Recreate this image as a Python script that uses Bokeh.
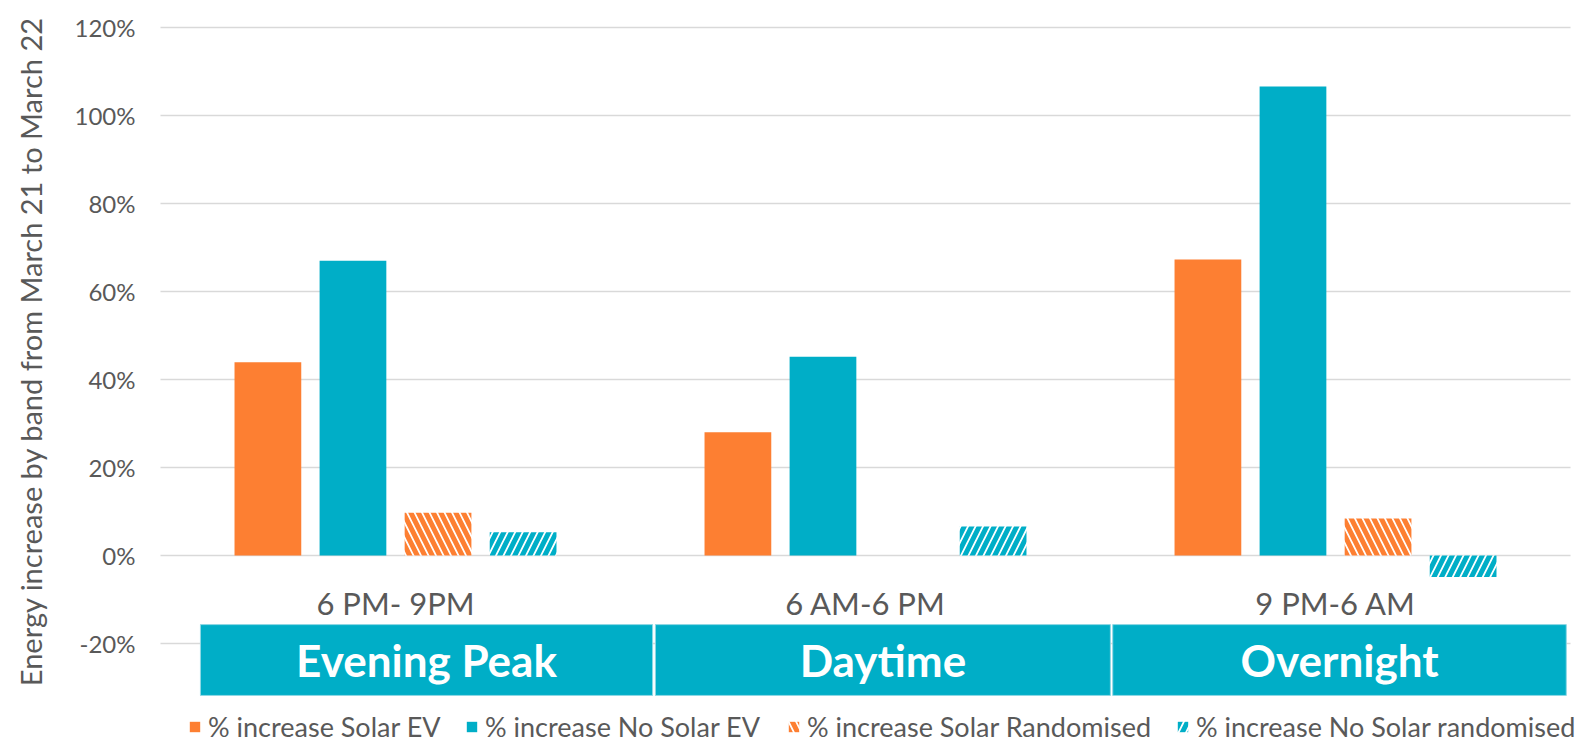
import math
from bokeh.plotting import figure
from bokeh.models import ColumnDataSource, Legend, LegendItem, Range1d
from bokeh.core.properties import value
from bokeh.embed import file_html
from bokeh.resources import INLINE

# ---- data -------------------------------------------------------------
time_bands = ["6 PM- 9PM", "6 AM-6 PM", "9 PM-6 AM"]
band_names = ["Evening Peak", "Daytime", "Overnight"]
series_names = ["% increase Solar EV", "% increase No Solar EV",
                "% increase Solar Randomised", "% increase No Solar randomised"]
solar_ev = [43.9, 28.0, 67.3]
no_solar_ev = [67.0, 45.2, 106.6]
solar_randomised = [9.7, 0.0, 8.4]
no_solar_randomised = [5.3, 6.6, -4.9]
y_ticks = [-20, 0, 20, 40, 60, 80, 100, 120]
y_tick_labels = [f"{t}%" for t in y_ticks]
y_title = "Energy increase by band from March 21 to March 22"

# ---- styling / layout ---------------------------------------------------
ORANGE = "#FD7F32"
TEAL = "#00AEC7"
GREY_TEXT = "#595959"
GRID = "#D9D9D9"
FONT = "Lato"

# the canvas is used as one drawing area; the chart body spans x = -0.5 .. 2.5
X_LEFT, X_RIGHT = -0.5, 2.5
BAR_STEP = 0.181     # distance between neighbouring bars in a group
BAR_WIDTH = 0.142
# teal band boxes below the zero line (x edges in category units, y in %)
BOX_EDGES = [(-0.415, 0.547), (0.553, 1.521), (1.526, 2.491)]
BOX_Y = (-31.8, -15.7)
LABEL_Y = -10.9
TITLE_X, TITLE_Y = -0.7766, 46.4

p = figure(width=1586, height=744, output_backend="svg", toolbar_location=None,
           x_axis_location=None, y_axis_location=None,
           x_range=Range1d(-0.8404, 2.5340), y_range=Range1d(-42.95, 126.14),
           min_border=0)
p.outline_line_color = None
p.background_fill_color = "white"
p.border_fill_color = "white"
p.xgrid.visible = False
p.ygrid.visible = False

# ---- value grid, tick labels and axis title -----------------------------------
p.segment(x0=[X_LEFT] * len(y_ticks), x1=[X_RIGHT] * len(y_ticks),
          y0=y_ticks, y1=y_ticks, line_color=GRID, line_width=1.5)
p.text(x=[X_LEFT] * len(y_ticks), y=y_ticks, text=y_tick_labels,
       x_offset=-25, text_align="right", text_baseline="middle",
       text_font=value(FONT), text_font_size="24px", text_color=GREY_TEXT)
p.text(x=[TITLE_X], y=[TITLE_Y], text=[y_title], angle=math.pi / 2,
       text_align="center", text_baseline="middle", text_font=value(FONT),
       text_font_size="29px", text_color=GREY_TEXT)

# ---- bars ------------------------------------------------------------------
groups = [0, 1, 2]
series = [
    (solar_ev, ORANGE, None),
    (no_solar_ev, TEAL, None),
    (solar_randomised, ORANGE, "\\"),
    (no_solar_randomised, TEAL, "/"),
]
renderers = []
for i, (vals, color, hatch) in enumerate(series):
    src = ColumnDataSource(dict(x=[g + (i - 1.5) * BAR_STEP for g in groups], top=vals))
    if hatch is None:
        r = p.vbar(x="x", top="top", bottom=0, width=BAR_WIDTH, source=src,
                   fill_color=color, line_color=None)
    else:
        r = p.vbar(x="x", top="top", bottom=0, width=BAR_WIDTH, source=src,
                   fill_color="white", line_color=None, hatch_pattern=hatch,
                   hatch_color=color, hatch_scale=15, hatch_weight=5)
    renderers.append(r)

# ---- time-band labels and band boxes --------------------------------------------
p.text(x=groups, y=[LABEL_Y] * 3, text=time_bands, text_align="center",
       text_baseline="middle", text_font=value(FONT), text_font_size="31px",
       text_color=GREY_TEXT)

box_src = ColumnDataSource(dict(
    left=[b[0] for b in BOX_EDGES], right=[b[1] for b in BOX_EDGES],
    bottom=[BOX_Y[0]] * 3, top=[BOX_Y[1]] * 3,
    cx=[(b[0] + b[1]) / 2 for b in BOX_EDGES], name=band_names))
p.quad(left="left", right="right", bottom="bottom", top="top", source=box_src,
       fill_color=TEAL, line_color="#8FD8E4", line_width=1)
p.text(x="cx", y=(BOX_Y[0] + BOX_Y[1]) / 2, text="name", source=box_src,
       text_align="center", text_baseline="middle", text_font=value(FONT),
       text_font_size="44px", text_font_style="bold", text_color="white")

# ---- legend: one entry per series, along the bottom ------------------------------
legend_x = [188, 465, 787, 1176]
for name, r, lx in zip(series_names, renderers, legend_x):
    lg = Legend(items=[LegendItem(label=name, renderers=[r])],
                location=(lx, 1), orientation="horizontal",
                padding=0, margin=0, border_line_color=None,
                background_fill_alpha=0, glyph_width=13, glyph_height=13,
                label_standoff=7, label_text_font=FONT,
                label_text_font_size="27px", label_text_color=GREY_TEXT)
    p.add_layout(lg)

open("out.html", "w").write(file_html(p, INLINE))
